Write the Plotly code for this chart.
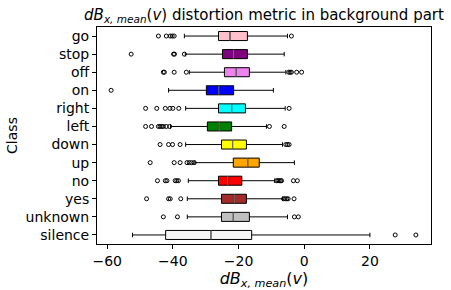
import plotly.graph_objects as go

categories = ["silence", "unknown", "yes", "no", "up", "down", "left", "right", "on", "off", "stop", "go"]
colors = ["whitesmoke", "silver", "brown", "red", "orange", "yellow", "green", "cyan", "blue", "violet", "purple", "pink"]
lower_whisker = [-52.3, -35.6, -35.6, -35.3, -33.3, -36.1, -40.7, -36.1, -41.3, -35.0, -36.2, -36.5]
q1 = [-42.2, -25.2, -25.2, -26.1, -21.6, -25.2, -29.5, -26.1, -29.8, -24.3, -24.9, -26.1]
medians = [-28.4, -21.6, -21.3, -23.3, -17.2, -21.8, -25.9, -22.1, -26.0, -20.7, -21.5, -22.6]
q3 = [-16.0, -16.7, -17.6, -19.0, -13.7, -17.6, -22.1, -17.9, -21.5, -16.7, -17.3, -17.3]
upper_whisker = [20.0, -5.1, -6.6, -9.0, -3.0, -6.6, -11.5, -5.8, -9.4, -5.6, -6.1, -5.1]
outliers = [
    [27.7, 34.0],
    [-42.9, -38.6, -3.0, -1.8],
    [-48.0, -41.3, -40.8, -37.6, -6.3, -5.8, -5.3, -4.9, -3.1],
    [-44.7, -42.3, -41.8, -39.3, -38.8, -38.3, -8.4, -8.0, -7.6, -7.2, -6.9, -3.3, -2.1],
    [-46.9, -39.6, -37.8, -35.7, -35.0, -34.3, -33.5],
    [-43.9, -41.3, -40.1, -37.8, -5.6, -5.1, -4.6],
    [-48.3, -46.5, -44.4, -43.9, -43.4, -42.9, -42.0, -41.0, -10.6, -6.1],
    [-48.3, -44.9, -42.3, -40.9, -40.0, -38.2, -4.6],
    [-58.8],
    [-42.9, -42.6, -39.6, -35.9, -4.7, -4.3, -3.9, -2.3, -0.8],
    [-52.7, -39.8, -39.5, -36.5],
    [-44.4, -42.0, -40.8, -40.2, -39.6, -3.9],
]

box_width = 0.5
fig = go.Figure()
for i, cat in enumerate(categories):
    fig.add_trace(go.Box(
        y=[i], q1=[q1[i]], median=[medians[i]], q3=[q3[i]],
        lowerfence=[lower_whisker[i]], upperfence=[upper_whisker[i]],
        orientation="h", fillcolor=colors[i], width=box_width,
        line=dict(color="black", width=1), whiskerwidth=0.5,
        boxpoints=False, showlegend=False, hoverinfo="skip",
    ))
    fig.add_trace(go.Scatter(
        x=[medians[i], medians[i]], y=[i - box_width / 2, i + box_width / 2],
        mode="lines", line=dict(color="#7a7a7a", width=1), showlegend=False, hoverinfo="skip",
    ))
    fig.add_trace(go.Scatter(
        x=outliers[i], y=[i] * len(outliers[i]), mode="markers",
        marker=dict(symbol="circle-open", size=4, color="black", line=dict(width=1)),
        showlegend=False, hoverinfo="skip",
    ))

font = "DejaVu Sans"
fig.update_layout(
    width=451, height=290, autosize=False,
    margin=dict(l=97, r=20, t=27, b=46, autoexpand=False),
    paper_bgcolor="white", plot_bgcolor="white",
    font=dict(family=font, size=14, color="black"),
    title=dict(
        text="<i>dB</i><sub><i>x, mean</i></sub>(<i>v</i>) distortion metric in background part",
        xref="paper", x=0.5, xanchor="center", yref="paper", y=1, yanchor="bottom",
        pad=dict(b=7), font=dict(size=15), automargin=False,
    ),
)
fig.update_xaxes(
    range=[-63.1, 38.6], tickvals=[-60, -40, -20, 0, 20],
    ticktext=["\u221260", "\u221240", "\u221220", "0", "20"],
    showgrid=False, zeroline=False, showline=True, linecolor="black", linewidth=1, mirror=True,
    ticks="outside", ticklen=4, tickcolor="black", automargin=False,
    title=dict(text="<i>dB</i><sub><i>x, mean</i></sub>(<i>v</i>)", font=dict(size=16), standoff=0),
)
fig.update_yaxes(
    range=[-0.5, 11.5], tickvals=list(range(len(categories))), ticktext=categories,
    showgrid=False, zeroline=False, showline=True, linecolor="black", linewidth=1, mirror=True,
    ticks="outside", ticklen=4, tickcolor="black", automargin=False,
    title=dict(text="Class", font=dict(size=14), standoff=4),
)
fig.write_html("out.html", config={"displayModeBar": False},
               post_script="document.body.style.margin='0';")
